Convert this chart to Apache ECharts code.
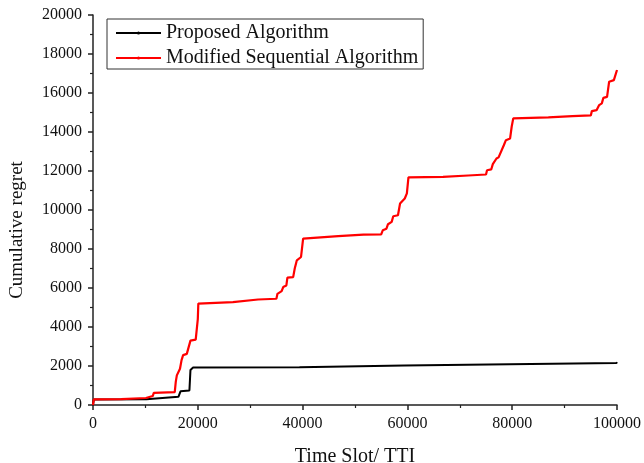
<!DOCTYPE html>
<html>
<head>
<meta charset="utf-8">
<script src="https://cdn.jsdelivr.net/npm/echarts@6/dist/echarts.min.js"></script>
<style>
  html, body { margin: 0; padding: 0; background: #fff; }
  #chart { width: 644px; height: 463px; }
</style>
</head>
<body>
<div id="chart"></div>
<script>
// traced cumulative regret curves, [time slot, regret]
const proposed = [
  [0, 0], [150, 280], [10200, 300], [10300, 380], [16300, 420], [16700, 700],
  [18400, 740], [18600, 1800], [19100, 1920], [39400, 1940], [39600, 1990],
  [59400, 2030], [59600, 2070], [79500, 2090], [79700, 2130], [99900, 2150],
  [100000, 2200]
];
const modified = [
  [0, 0], [150, 290], [5400, 300], [5600, 340], [10100, 360], [10300, 440],
  [11400, 460], [11600, 620], [15600, 660], [15800, 1200], [16000, 1520],
  [16600, 1860], [16900, 2300], [17200, 2560], [17900, 2620], [18200, 2720],
  [18600, 3300], [19600, 3350], [20000, 4400], [20100, 5200], [20300, 5250],
  [26700, 5280], [26900, 5360], [31500, 5410], [31700, 5450], [35000, 5450],
  [35200, 5700], [36000, 5840], [36300, 6050], [36900, 6130], [37100, 6530],
  [38200, 6560], [38500, 7000], [38900, 7420], [39700, 7590], [40100, 8530],
  [40400, 8620], [46800, 8660], [51600, 8740], [55000, 8750], [55300, 8960],
  [56000, 9040], [56300, 9270], [57000, 9390], [57300, 9680], [58200, 9730],
  [58600, 10330], [59500, 10590], [59900, 10850], [60200, 11670], [66800, 11700],
  [71600, 11770], [75000, 11820], [75200, 12040], [76000, 12080], [76300, 12350],
  [77000, 12640], [77400, 12700], [78400, 13320], [78800, 13580], [79600, 13670],
  [79900, 14270], [80200, 14700], [86900, 14750], [91500, 14810], [95000, 14850],
  [95200, 15070], [96100, 15120], [96600, 15380], [97100, 15470], [97400, 15750],
  [98100, 15800], [98500, 16580], [99400, 16660], [99600, 16750], [100000, 17180]
];
const seriesNames = ['Proposed Algorithm', 'Modified Sequential Algorithm'];

const font = 'Liberation Serif';
let myChart = echarts.init(document.getElementById('chart'));
let axisCommon = {
  axisLine: { show: true, lineStyle: { color: '#222', width: 1.5 } },
  axisTick: { show: true, inside: false, length: 5, lineStyle: { color: '#222', width: 1.5 } },
  minorTick: { show: true, splitNumber: 2, length: 3, lineStyle: { color: '#222', width: 1.2 } },
  splitLine: { show: false }
};
let option = {
  animation: false,
  backgroundColor: '#fff',
  grid: { left: 93, right: 27, top: 15, bottom: 58, containLabel: false, outerBoundsMode: 'none' },
  legend: {
    left: 107, top: 19,
    orient: 'vertical',
    data: seriesNames,
    itemWidth: 45, itemHeight: 4, itemGap: 5,
    padding: [4, 5, 1, 8],
    borderColor: '#333', borderWidth: 1,
    textStyle: { fontFamily: font, fontSize: 20, color: '#111', lineHeight: 20 }
  },
  xAxis: Object.assign({}, axisCommon, {
    type: 'value', min: 0, max: 100000, interval: 20000,
    name: 'Time Slot/ TTI', nameLocation: 'middle', nameGap: 42,
    nameTextStyle: { fontFamily: font, fontSize: 20, color: '#111' },
    axisLabel: { fontFamily: font, fontSize: 16, color: '#111', margin: 11,
      formatter: function (v) { return String(v); } }
  }),
  yAxis: Object.assign({}, axisCommon, {
    type: 'value', min: 0, max: 20000, interval: 2000,
    name: 'Cumulative regret', nameLocation: 'middle', nameGap: 66,
    nameTextStyle: { fontFamily: font, fontSize: 19, color: '#111', padding: [0, 40, 0, 0] },
    axisLabel: { fontFamily: font, fontSize: 16, color: '#111', margin: 11,
      formatter: function (v) { return String(v); } }
  }),
  series: [{
    name: seriesNames[0],
    type: 'line',
    data: proposed,
    symbol: 'circle', symbolSize: 2, showSymbol: false,
    lineStyle: { color: '#000', width: 2 },
    itemStyle: { color: '#000' }
  }, {
    name: seriesNames[1],
    type: 'line',
    data: modified,
    symbol: 'circle', symbolSize: 2, showSymbol: false,
    lineStyle: { color: '#ff0000', width: 2.2 },
    itemStyle: { color: '#ff0000' }
  }]
};
myChart.setOption(option);
</script>
</body>
</html>
